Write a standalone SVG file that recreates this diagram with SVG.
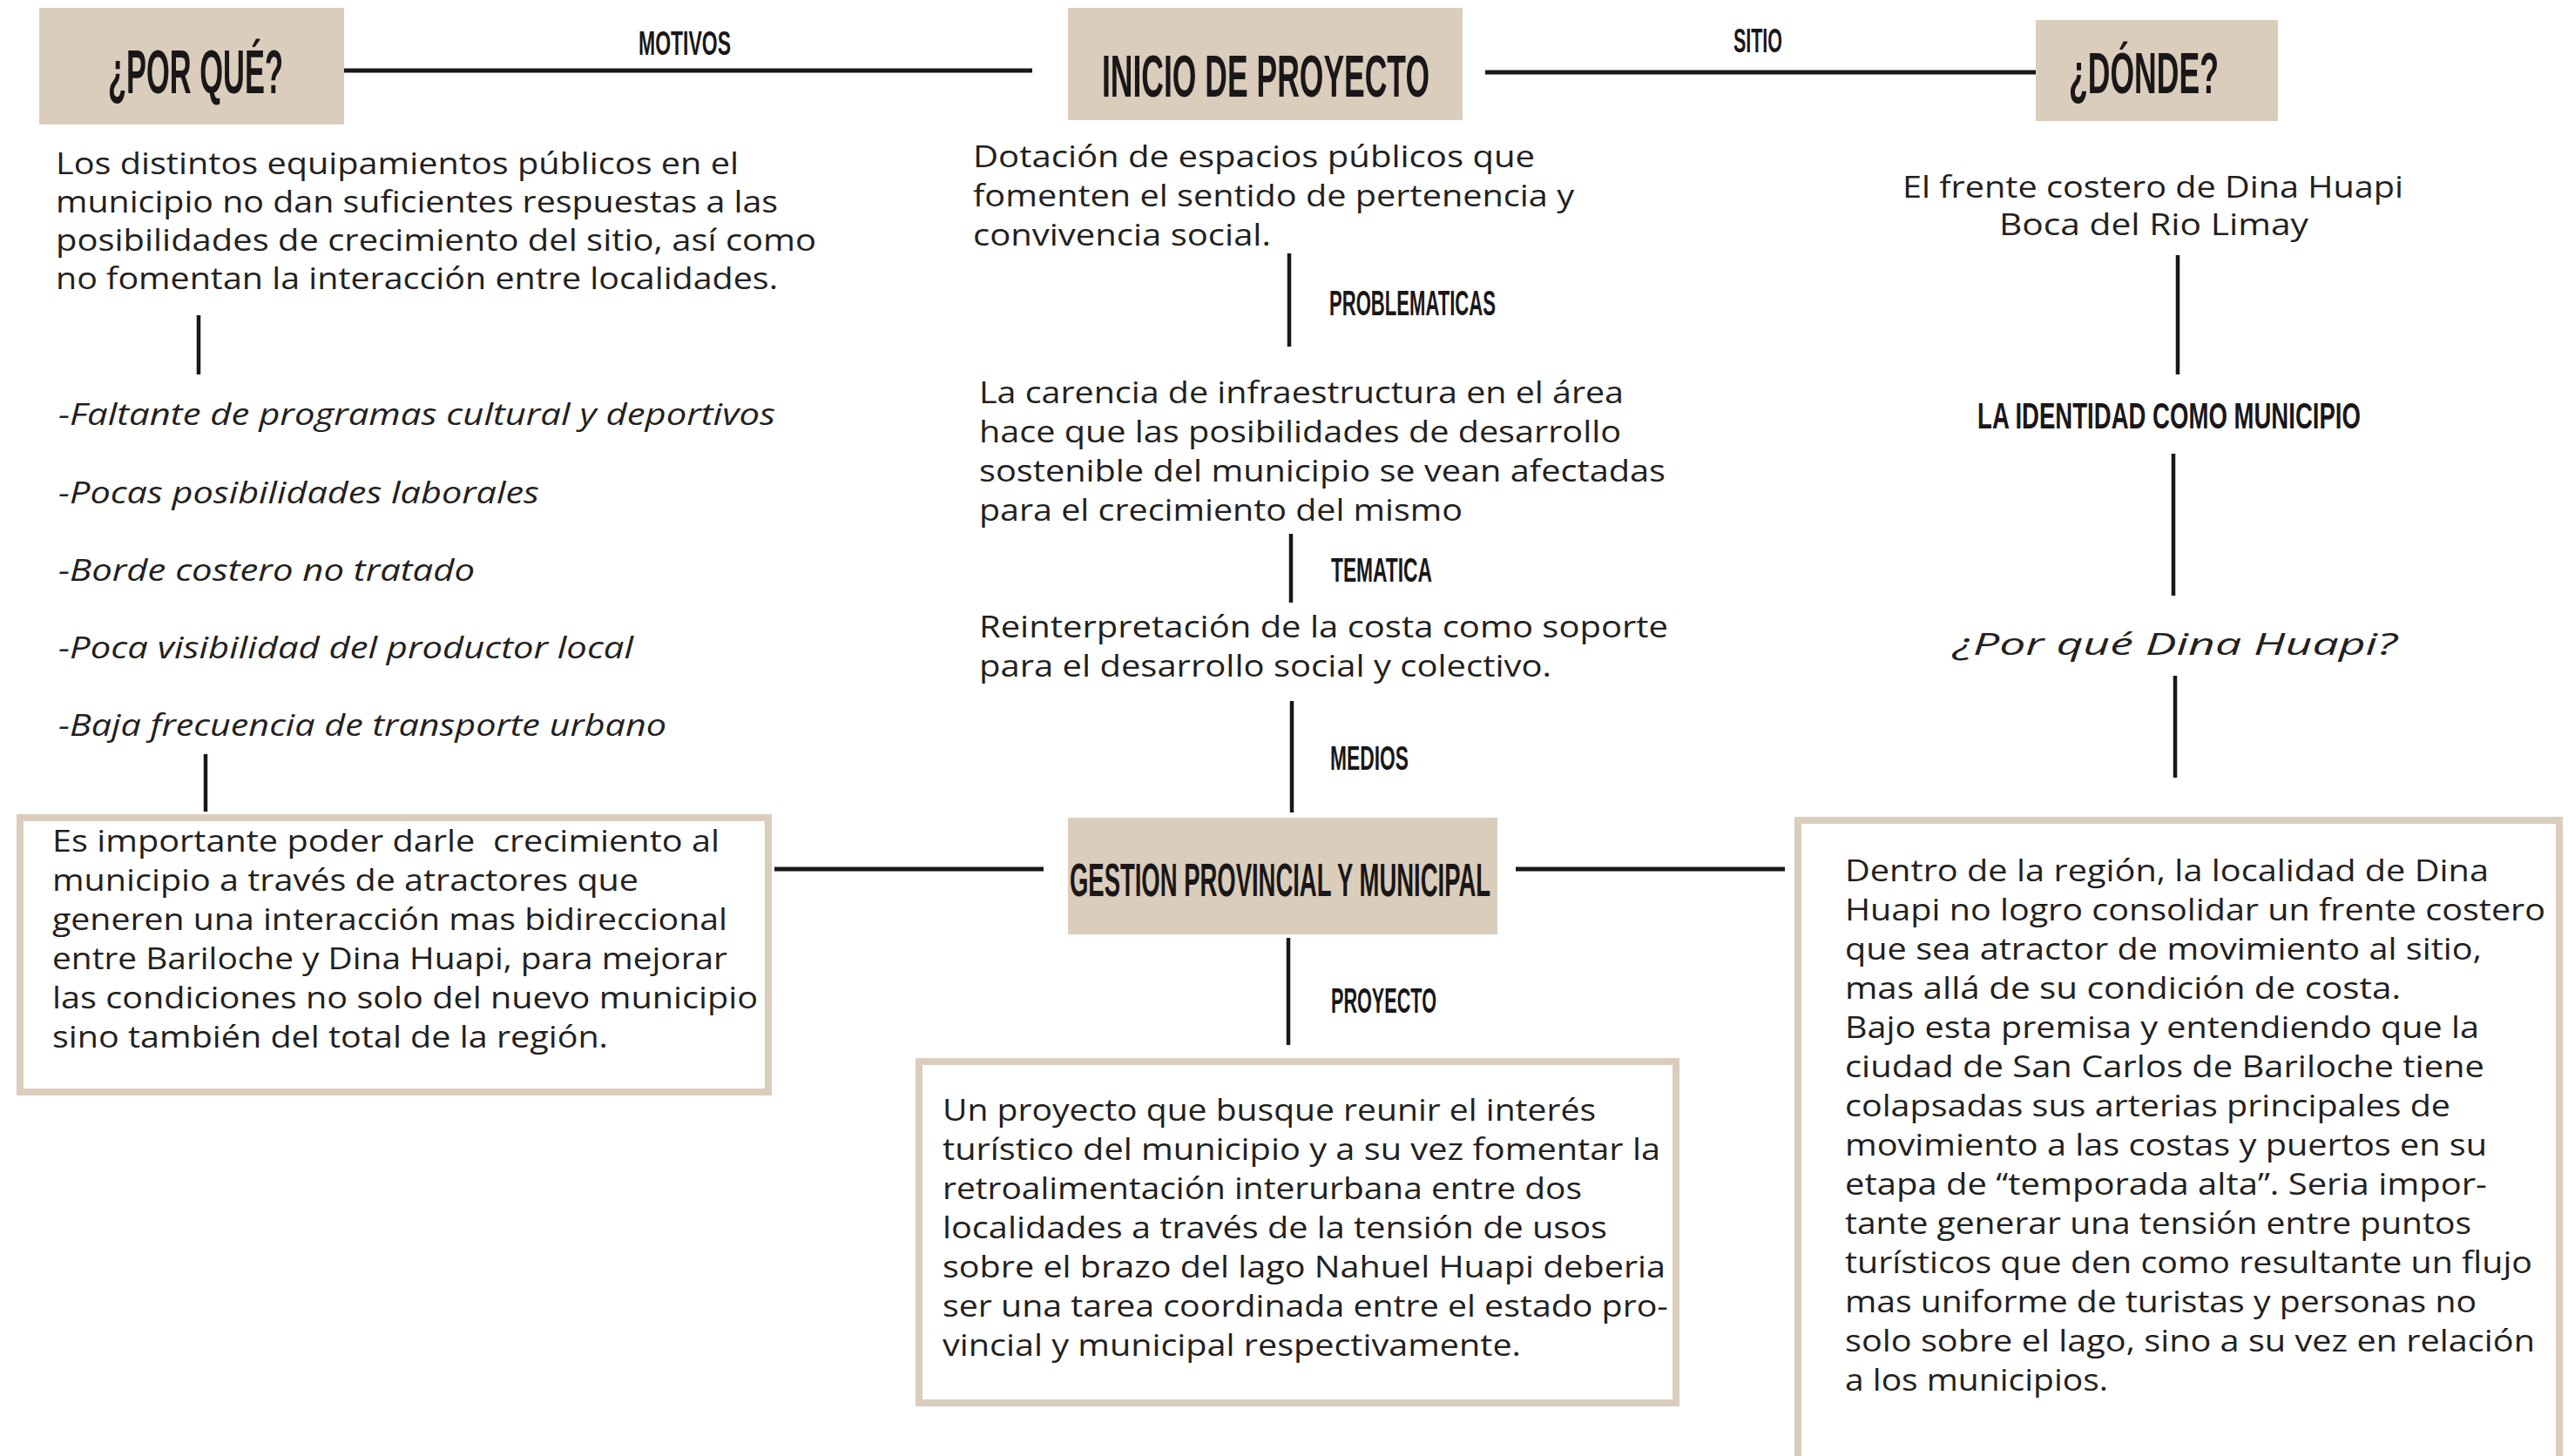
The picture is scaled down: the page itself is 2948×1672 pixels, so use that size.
<svg xmlns="http://www.w3.org/2000/svg" width="2948" height="1672" viewBox="0 0 2948 1672">
<style>
.bg{fill:#ffffff}
.hbox{fill:#dacdbc}
.tbox{fill:#ffffff;stroke:#dacdbc;stroke-width:8}
.h{font-family:"Liberation Sans",Arial,sans-serif;font-weight:bold;fill:#1a1718}
.lab{font-family:"Liberation Sans",Arial,sans-serif;font-weight:bold;fill:#1a1718}
.t{font-family:"Open Sans","Noto Sans",sans-serif;font-size:34px;fill:#231f20}
.ti{font-family:"Open Sans","Noto Sans",sans-serif;font-size:34px;font-style:italic;fill:#231f20}
.c{stroke:#1a1718;fill:none}
</style>
<rect class="bg" x="0" y="0" width="2948" height="1672"/>

<g id="connectors">
  <line class="c" x1="381" y1="81" x2="1185" y2="81" stroke-width="5"/>
  <line class="c" x1="1705" y1="83" x2="2339" y2="83" stroke-width="5"/>
  <line class="c" x1="228" y1="362" x2="228" y2="430" stroke-width="4.5"/>
  <line class="c" x1="236" y1="866" x2="236" y2="932" stroke-width="4.5"/>
  <line class="c" x1="1480" y1="291" x2="1480" y2="398" stroke-width="4.5"/>
  <line class="c" x1="1482" y1="613" x2="1482" y2="692" stroke-width="4.5"/>
  <line class="c" x1="1483" y1="805" x2="1483" y2="933" stroke-width="4.5"/>
  <line class="c" x1="1479" y1="1077" x2="1479" y2="1200" stroke-width="4.5"/>
  <line class="c" x1="889" y1="998" x2="1198" y2="998" stroke-width="5"/>
  <line class="c" x1="1740" y1="998" x2="2049" y2="998" stroke-width="5"/>
  <line class="c" x1="2500" y1="293" x2="2500" y2="430" stroke-width="4.5"/>
  <line class="c" x1="2495" y1="521" x2="2495" y2="684" stroke-width="4.5"/>
  <line class="c" x1="2497" y1="776" x2="2497" y2="893" stroke-width="4.5"/>
  <text class="lab" x="733" y="63" font-size="38" textLength="106" lengthAdjust="spacingAndGlyphs">MOTIVOS</text>
  <text class="lab" x="1990" y="60" font-size="39" textLength="56" lengthAdjust="spacingAndGlyphs">SITIO</text>
  <text class="lab" x="1526" y="362" font-size="40" textLength="191" lengthAdjust="spacingAndGlyphs">PROBLEMATICAS</text>
  <text class="lab" x="1528" y="668" font-size="38" textLength="116" lengthAdjust="spacingAndGlyphs">TEMATICA</text>
  <text class="lab" x="1527" y="884" font-size="39" textLength="90" lengthAdjust="spacingAndGlyphs">MEDIOS</text>
  <text class="lab" x="1528" y="1163" font-size="40" textLength="121" lengthAdjust="spacingAndGlyphs">PROYECTO</text>
  <text class="lab" transform="translate(2490,492) scale(0.641,1)" x="0" y="0" font-size="43" text-anchor="middle">LA IDENTIDAD COMO MUNICIPIO</text>
</g>

<g id="por-que">
  <rect class="hbox" x="45" y="9" width="350" height="134"/>
  <text class="h" x="124" y="107" font-size="70" textLength="201" lengthAdjust="spacingAndGlyphs">¿POR QUÉ?</text>
</g>

<g id="inicio">
  <rect class="hbox" x="1226" y="9" width="453" height="129"/>
  <text class="h" x="1265" y="111" font-size="68" textLength="376" lengthAdjust="spacingAndGlyphs">INICIO DE PROYECTO</text>
</g>

<g id="donde">
  <rect class="hbox" x="2337" y="23" width="278" height="116"/>
  <text class="h" x="2375" y="107" font-size="66" textLength="172" lengthAdjust="spacingAndGlyphs">¿DÓNDE?</text>
</g>

<g id="motivos-texto">
  <text class="t" x="64" y="200" textLength="784" lengthAdjust="spacingAndGlyphs">Los distintos equipamientos públicos en el</text>
  <text class="t" x="64" y="244" textLength="829" lengthAdjust="spacingAndGlyphs">municipio no dan suficientes respuestas a las</text>
  <text class="t" x="64" y="288" textLength="873" lengthAdjust="spacingAndGlyphs">posibilidades de crecimiento del sitio, así como</text>
  <text class="t" x="64" y="332" textLength="829" lengthAdjust="spacingAndGlyphs">no fomentan la interacción entre localidades.</text>
</g>

<g id="lista">
  <text class="ti" x="67" y="488" textLength="823" lengthAdjust="spacingAndGlyphs">-Faltante de programas cultural y deportivos</text>
  <text class="ti" x="67" y="578" textLength="552" lengthAdjust="spacingAndGlyphs">-Pocas posibilidades laborales</text>
  <text class="ti" x="67" y="667" textLength="478" lengthAdjust="spacingAndGlyphs">-Borde costero no tratado</text>
  <text class="ti" x="67" y="756" textLength="660" lengthAdjust="spacingAndGlyphs">-Poca visibilidad del productor local</text>
  <text class="ti" x="67" y="845" textLength="698" lengthAdjust="spacingAndGlyphs">-Baja frecuencia de transporte urbano</text>
</g>

<g id="importante">
  <rect class="tbox" x="23" y="939" width="859" height="315"/>
  <text class="t" x="60" y="978" textLength="766" lengthAdjust="spacingAndGlyphs" xml:space="preserve">Es importante poder darle  crecimiento al</text>
  <text class="t" x="60" y="1023" textLength="673" lengthAdjust="spacingAndGlyphs">municipio a través de atractores que</text>
  <text class="t" x="60" y="1068" textLength="775" lengthAdjust="spacingAndGlyphs">generen una interacción mas bidireccional</text>
  <text class="t" x="60" y="1113" textLength="775" lengthAdjust="spacingAndGlyphs">entre Bariloche y Dina Huapi, para mejorar</text>
  <text class="t" x="60" y="1158" textLength="810" lengthAdjust="spacingAndGlyphs">las condiciones no solo del nuevo municipio</text>
  <text class="t" x="60" y="1203" textLength="638" lengthAdjust="spacingAndGlyphs">sino también del total de la región.</text>
</g>

<g id="dotacion">
  <text class="t" x="1117" y="192" textLength="645" lengthAdjust="spacingAndGlyphs">Dotación de espacios públicos que</text>
  <text class="t" x="1117" y="237" textLength="690" lengthAdjust="spacingAndGlyphs">fomenten el sentido de pertenencia y</text>
  <text class="t" x="1117" y="282" textLength="342" lengthAdjust="spacingAndGlyphs">convivencia social.</text>
</g>

<g id="carencia">
  <text class="t" x="1124" y="463" textLength="740" lengthAdjust="spacingAndGlyphs">La carencia de infraestructura en el área</text>
  <text class="t" x="1124" y="508" textLength="737" lengthAdjust="spacingAndGlyphs">hace que las posibilidades de desarrollo</text>
  <text class="t" x="1124" y="553" textLength="788" lengthAdjust="spacingAndGlyphs">sostenible del municipio se vean afectadas</text>
  <text class="t" x="1124" y="598" textLength="555" lengthAdjust="spacingAndGlyphs">para el crecimiento del mismo</text>
</g>

<g id="reinterpretacion">
  <text class="t" x="1124" y="732" textLength="791" lengthAdjust="spacingAndGlyphs">Reinterpretación de la costa como soporte</text>
  <text class="t" x="1124" y="777" textLength="657" lengthAdjust="spacingAndGlyphs">para el desarrollo social y colectivo.</text>
</g>

<g id="gestion">
  <rect class="hbox" x="1226" y="939" width="493" height="134"/>
  <text class="h" x="1228" y="1029" font-size="54" textLength="483" lengthAdjust="spacingAndGlyphs">GESTION PROVINCIAL Y MUNICIPAL</text>
</g>

<g id="proyecto">
  <rect class="tbox" x="1055" y="1219" width="869" height="392"/>
  <text class="t" x="1082" y="1287" textLength="750" lengthAdjust="spacingAndGlyphs">Un proyecto que busque reunir el interés</text>
  <text class="t" x="1082" y="1332" textLength="824" lengthAdjust="spacingAndGlyphs">turístico del municipio y a su vez fomentar la</text>
  <text class="t" x="1082" y="1377" textLength="734" lengthAdjust="spacingAndGlyphs">retroalimentación interurbana entre dos</text>
  <text class="t" x="1082" y="1422" textLength="763" lengthAdjust="spacingAndGlyphs">localidades a través de la tensión de usos</text>
  <text class="t" x="1082" y="1467" textLength="830" lengthAdjust="spacingAndGlyphs">sobre el brazo del lago Nahuel Huapi deberia</text>
  <text class="t" x="1082" y="1512" textLength="833" lengthAdjust="spacingAndGlyphs">ser una tarea coordinada entre el estado pro-</text>
  <text class="t" x="1082" y="1557" textLength="664" lengthAdjust="spacingAndGlyphs">vincial y municipal respectivamente.</text>
</g>

<g id="frente">
  <text class="t" x="2184" y="227" textLength="575" lengthAdjust="spacingAndGlyphs">El frente costero de Dina Huapi</text>
  <text class="t" x="2295" y="270" textLength="355" lengthAdjust="spacingAndGlyphs">Boca del Rio Limay</text>
</g>

<g id="por-que-dina">
  <text class="ti" x="2242" y="752" font-size="48" textLength="510" lengthAdjust="spacingAndGlyphs">¿Por qué Dina Huapi?</text>
</g>

<g id="dentro">
  <rect class="tbox" x="2064" y="942" width="874" height="780"/>
  <text class="t" x="2118" y="1012" textLength="739" lengthAdjust="spacingAndGlyphs">Dentro de la región, la localidad de Dina</text>
  <text class="t" x="2118" y="1057" textLength="804" lengthAdjust="spacingAndGlyphs">Huapi no logro consolidar un frente costero</text>
  <text class="t" x="2118" y="1102" textLength="731" lengthAdjust="spacingAndGlyphs">que sea atractor de movimiento al sitio,</text>
  <text class="t" x="2118" y="1147" textLength="638" lengthAdjust="spacingAndGlyphs">mas allá de su condición de costa.</text>
  <text class="t" x="2118" y="1192" textLength="728" lengthAdjust="spacingAndGlyphs">Bajo esta premisa y entendiendo que la</text>
  <text class="t" x="2118" y="1237" textLength="734" lengthAdjust="spacingAndGlyphs">ciudad de San Carlos de Bariloche tiene</text>
  <text class="t" x="2118" y="1282" textLength="695" lengthAdjust="spacingAndGlyphs">colapsadas sus arterias principales de</text>
  <text class="t" x="2118" y="1327" textLength="737" lengthAdjust="spacingAndGlyphs">movimiento a las costas y puertos en su</text>
  <text class="t" x="2118" y="1372" textLength="737" lengthAdjust="spacingAndGlyphs">etapa de “temporada alta”. Seria impor-</text>
  <text class="t" x="2118" y="1417" textLength="719" lengthAdjust="spacingAndGlyphs">tante generar una tensión entre puntos</text>
  <text class="t" x="2118" y="1462" textLength="789" lengthAdjust="spacingAndGlyphs">turísticos que den como resultante un flujo</text>
  <text class="t" x="2118" y="1507" textLength="725" lengthAdjust="spacingAndGlyphs">mas uniforme de turistas y personas no</text>
  <text class="t" x="2118" y="1552" textLength="792" lengthAdjust="spacingAndGlyphs">solo sobre el lago, sino a su vez en relación</text>
  <text class="t" x="2118" y="1597" textLength="302" lengthAdjust="spacingAndGlyphs">a los municipios.</text>
</g>
</svg>
